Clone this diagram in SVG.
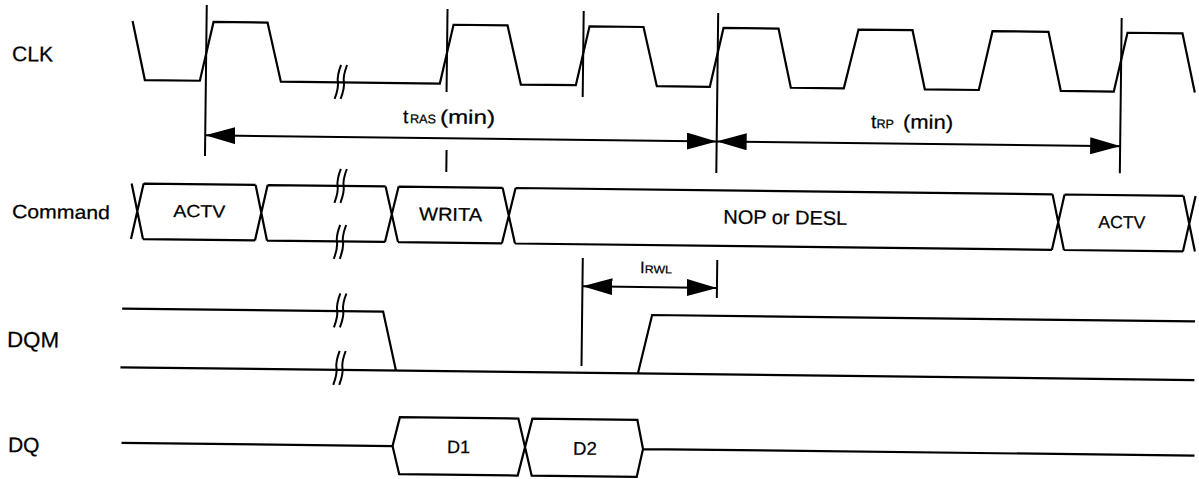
<svg xmlns="http://www.w3.org/2000/svg" width="1199" height="479" viewBox="0 0 1199 479">
<style>
.w{fill:none;stroke:#000;stroke-width:2.2;stroke-linejoin:miter}
.v{fill:none;stroke:#000;stroke-width:2}
.br{fill:none;stroke:#000;stroke-width:2}
text{font-family:"Liberation Sans",Arial,Helvetica,sans-serif;fill:#000;stroke:#000;stroke-width:0.25}
.lb{font-size:21px}
.bx{text-anchor:middle}
</style>
<defs>
<marker id="ah" viewBox="0 0 30 17" refX="30" refY="8.5" markerWidth="30" markerHeight="17" markerUnits="userSpaceOnUse" orient="auto-start-reverse">
<path d="M0,0 L30,8.5 L0,17 Z" fill="#000"/>
</marker>
<path id="brk" d="M3,-17 Q-1,-6 0,0 Q1,6 -3,17 M9,-17 Q5,-6 6,0 Q7,6 3,17"/>
</defs>
<rect width="1199" height="479" fill="#fff"/>
<g transform="rotate(0.68 600 240)">
<g id="labels">
<text class="lb" x="10" y="68">CLK</text>
<text class="lb" x="11.7" y="225" style="font-size:19px" textLength="98" lengthAdjust="spacingAndGlyphs">Command</text>
<text class="lb" x="8.3" y="354" style="font-size:22px" textLength="52" lengthAdjust="spacingAndGlyphs">DQM</text>
<text class="lb" x="10.5" y="459">DQ</text>
</g>
<g id="clk">
<path class="w" d="M130,26.5 L143,85.5 L198,85.5 L211,26.5 L265,26.5 L279,85.5 L438,85.5 L451,26.5 L505,26.5 L519,85.5 L574,85.5 L587,26.5 L641,26.5 L655,85.5 L708,85.5 L721,26.5 L776,26.5 L789,85.5 L842,85.5 L856,26.5 L910,26.5 L923,85.5 L977,85.5 L990,26.5 L1046,26.5 L1059,85.5 L1112,85.5 L1125,26.5 L1180,26.5 L1193,85.5"/>
<use href="#brk" class="br" x="336" y="85"/>
</g>
<g id="command">
<path class="w" d="M131,189 L143,244.5 M131,244.5 L143,189 M143,189 H255 M143,244.5 H255 M255,189 L267,244.5 M255,244.5 L267,189 M267,189 H385 M267,244.5 H385 M385,189 L398,244.5 M385,244.5 L398,189 M398,189 H502 M398,244.5 H502 M502,189 L515,244.5 M502,244.5 L515,189 M515,189 H1052 M515,244.5 H1052 M1052,189 L1064,244.5 M1052,244.5 L1064,189 M1064,189 H1183 M1064,244.5 H1183 M1183,189 L1195,244.5 M1183,244.5 L1195,189"/>
<use href="#brk" class="br" x="337" y="189"/>
<use href="#brk" class="br" x="337" y="245"/>
<text class="bx" x="199" y="222" style="font-size:17.5px" textLength="52" lengthAdjust="spacingAndGlyphs">ACTV</text>
<text class="bx" x="450.3" y="222.5" style="font-size:18.5px" textLength="63" lengthAdjust="spacingAndGlyphs">WRITA</text>
<text class="bx" x="785" y="222" style="font-size:19.5px" textLength="124" lengthAdjust="spacingAndGlyphs">NOP or DESL</text>
<text class="bx" x="1121.5" y="222" style="font-size:17.5px" textLength="47" lengthAdjust="spacingAndGlyphs">ACTV</text>
</g>
<g id="dqm">
<path class="w" d="M123,314.2 H384 L397.5,373 M122,373 H1196 M639.5,373 L653,314.4 H1196"/>
<use href="#brk" class="br" x="338" y="313.5"/>
<use href="#brk" class="br" x="338" y="371"/>
</g>
<g id="dq">
<path class="w" d="M124,448.5 H395 L402,419.5 H520.5 L534.5,476.5 H639.5 L645.5,448.5 L639.5,419.5 H534.5 L520.5,476.5 H402 L395,448.5 M645.5,448.5 H1197"/>
<text class="bx" x="461" y="454.7" style="font-size:18px">D1</text>
<text class="bx" x="587.5" y="455" style="font-size:18.5px">D2</text>
</g>
<g id="connectors">
<path class="v" d="M204,9.6 V160.6 M444.8,10.8 V93.8 M445.5,151.8 V173.8 M581,11.2 V97.2 M715.5,11.6 V171.6 M1119,11.9 V167"/>
<path class="v" d="M583,258.2 V366.2 M717.5,258.6 V296.6"/>
<path class="v" d="M204,140 H715.5" marker-start="url(#ah)" marker-end="url(#ah)"/>
<path class="v" d="M715.5,140 H1119" marker-start="url(#ah)" marker-end="url(#ah)"/>
<path class="v" d="M583,286.5 H717.5" marker-start="url(#ah)" marker-end="url(#ah)"/>
<text x="401.6" y="125.3" style="font-size:19px">t</text>
<text x="408.6" y="125.3" style="font-size:12.5px" textLength="26" lengthAdjust="spacingAndGlyphs">RAS</text>
<text x="438.6" y="125.3" style="font-size:19.5px" textLength="55" lengthAdjust="spacingAndGlyphs">(min)</text>
<text x="869.7" y="124.8" style="font-size:19px">t</text>
<text x="875.2" y="124.8" style="font-size:12.5px">RP</text>
<text x="901.7" y="124.8" style="font-size:19.5px" textLength="50" lengthAdjust="spacingAndGlyphs">(min)</text>
<text x="640.4" y="272.5" style="font-size:16.5px">I</text>
<text x="645.2" y="272.5" style="font-size:11px" textLength="27" lengthAdjust="spacingAndGlyphs">RWL</text>
</g>
</g>
</svg>
